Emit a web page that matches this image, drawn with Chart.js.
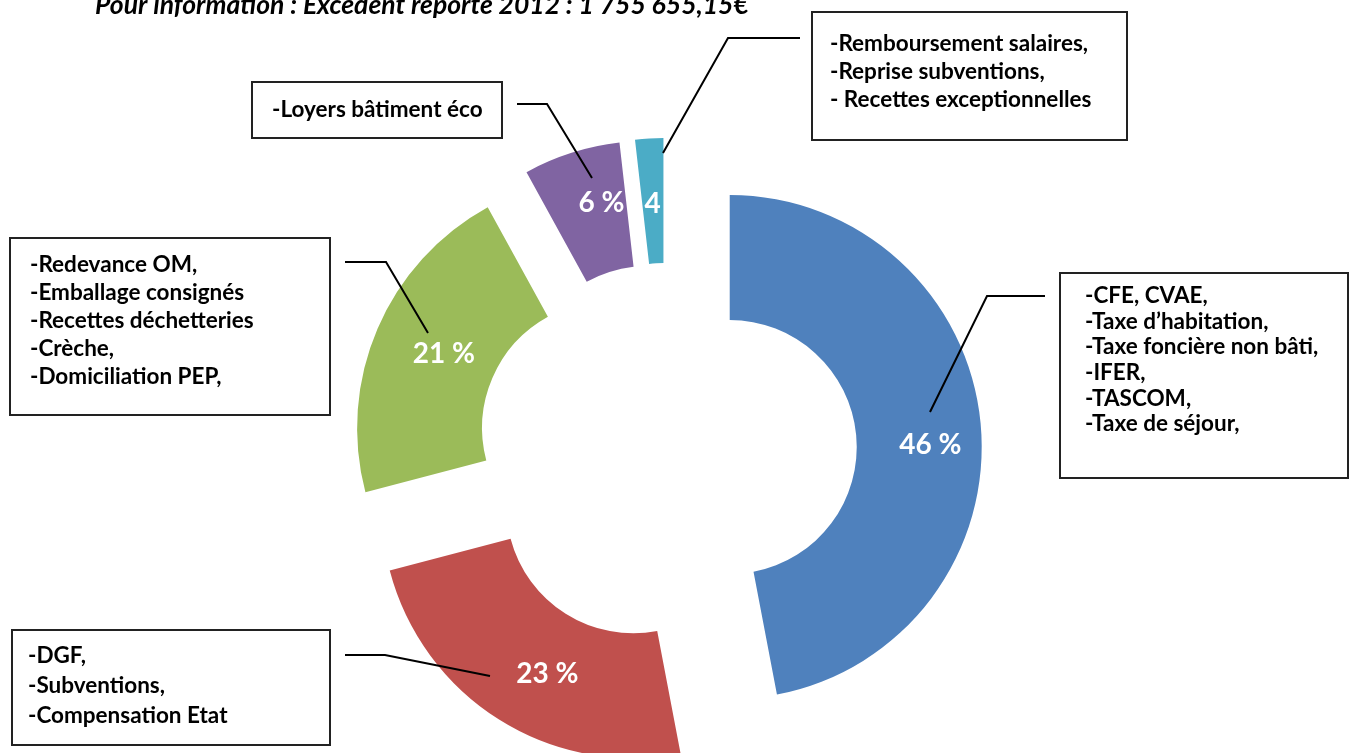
<!DOCTYPE html>
<html>
<head>
<meta charset="utf-8">
<script src="https://cdn.jsdelivr.net/npm/chart.js@4.4.1/dist/chart.umd.min.js"></script>
<style>
  html, body { margin: 0; padding: 0; background: #fff; }
  canvas { display: block; }
</style>
</head>
<body>
<canvas id="recettes" width="1349" height="753"></canvas>
<script>
const shares = [47.0, 23.9, 21.1, 6.2, 1.8];
const shareLabels = ['46 %', '23 %', '21 %', '6 %', '4'];
const colors = ['#4f81bd', '#c0504d', '#9bbb59', '#8064a2', '#4bacc6'];
const boxLines = [
    ['-CFE, CVAE,', '-Taxe d\u2019habitation,', '-Taxe foncière non bâti,', '-IFER,', '-TASCOM,', '-Taxe de séjour,'],
    ['-DGF,', '-Subventions,', '-Compensation Etat'],
    ['-Redevance OM,', '-Emballage consignés', '-Recettes déchetteries', '-Crèche,', '-Domiciliation PEP,'],
    ['-Loyers bâtiment éco'],
    ['-Remboursement salaires,', '-Reprise subventions,', '- Recettes exceptionnelles']
];
const note = 'Pour information : Excédent reporté 2012 : 1 755 655,15€';

const EXPLODE = 63;

// cadres et traits de rappel, dans l'ordre des secteurs
const boxes = [
    {x: 1060, y: 273, w: 288, h: 205, tx: 1085, ty: 296, dy: 25.6, lead: [[1045, 296], [987, 296], [930, 412]]},
    {x: 12, y: 630, w: 318, h: 115, tx: 28, ty: 656, dy: 30, lead: [[345, 655], [385, 655], [490, 676]]},
    {x: 10, y: 238, w: 320, h: 177, tx: 30, ty: 265, dy: 28, lead: [[345, 262], [386, 262], [428, 333]]},
    {x: 252, y: 82, w: 250, h: 56, tx: 272, ty: 110, dy: 0, lead: [[517, 104], [547, 104], [592, 178]]},
    {x: 812, y: 12, w: 315, h: 128, tx: 830, ty: 44, dy: 28, lead: [[800, 38], [728, 38], [663, 153]]}
];
const labelNudge = [[12, 16], [15, 7], [9, 1], [11, -9], [0, 3]];

const explodePlugin = {
    id: 'explode',
    afterDatasetUpdate(chart, args) {
        args.meta.data.forEach(function(arc) {
            const mid = (arc.startAngle + arc.endAngle) / 2;
            arc.x += Math.cos(mid) * EXPLODE;
            arc.y += Math.sin(mid) * EXPLODE;
        });
    }
};

const annotPlugin = {
    id: 'annot',
    afterDatasetsDraw(chart) {
        const ctx = chart.ctx;
        const arcs = chart.getDatasetMeta(0).data;
        ctx.save();

        // valeurs dans les secteurs
        ctx.fillStyle = '#fff';
        ctx.font = 'bold 28px Lato';
        ctx.textAlign = 'center';
        ctx.textBaseline = 'middle';
        arcs.forEach(function(arc, i) {
            const p = arc.getCenterPoint();
            ctx.fillText(shareLabels[i], p.x + labelNudge[i][0], p.y + labelNudge[i][1]);
        });

        // cadres
        ctx.textAlign = 'left';
        ctx.fillStyle = '#000';
        ctx.font = 'bold 22.5px Lato';
        boxes.forEach(function(b, i) {
            ctx.strokeStyle = '#222';
            ctx.lineWidth = 2;
            ctx.strokeRect(b.x, b.y, b.w, b.h);
            boxLines[i].forEach(function(line, j) {
                ctx.fillText(line, b.tx, b.ty + j * b.dy);
            });
            ctx.strokeStyle = '#000';
            ctx.beginPath();
            b.lead.forEach(function(pt, k) {
                if (k == 0) ctx.moveTo(pt[0], pt[1]);
                else ctx.lineTo(pt[0], pt[1]);
            });
            ctx.stroke();
        });

        ctx.font = 'italic bold 26.5px Lato';
        ctx.textBaseline = 'alphabetic';
        ctx.fillText(note, 95, 14);
        ctx.restore();
    }
};

const chart = new Chart(document.getElementById('recettes'), {
    type: 'doughnut',
    data: {
        labels: boxLines.map(function(l) { return l.join(' '); }),
        datasets: [{
            data: shares,
            backgroundColor: colors,
            borderWidth: 0
        }]
    },
    options: {
        responsive: false,
        animation: false,
        events: [],
        radius: 252,
        cutout: '50.4%',
        layout: { padding: { left: 0, right: 15, top: 153, bottom: 0 } },
        plugins: {
            legend: { display: false },
            title: { display: false },
            tooltip: { enabled: false }
        }
    },
    plugins: [explodePlugin, annotPlugin]
});
</script>
</body>
</html>
